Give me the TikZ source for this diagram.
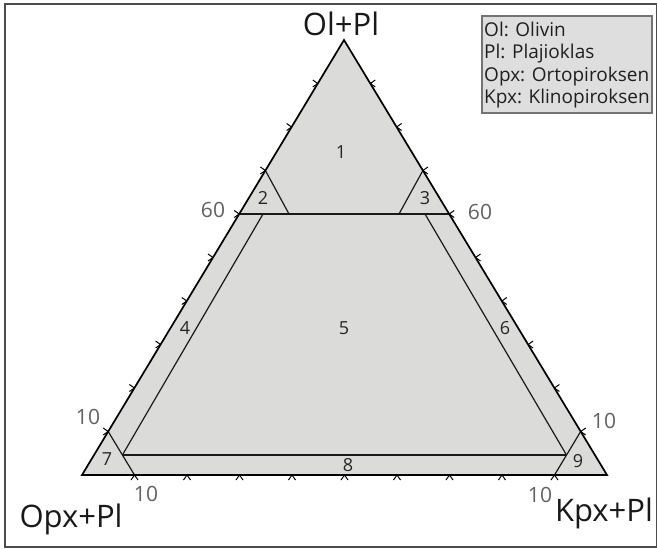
\documentclass[tikz,border=0pt]{standalone}
\usepackage{fontspec}
\setmainfont{Open Sans}
\usetikzlibrary{calc}
\definecolor{fillgray}{RGB}{219,220,217}
\definecolor{leggray}{RGB}{222,222,222}
\begin{document}
\begin{tikzpicture}[x=1pt,y=-1pt,
  side/.style={line width=1.7pt, black, line join=miter},
  innerline/.style={line width=1.2pt, black!90},
  tickmark/.style={line width=1pt, black},
  vlabel/.style={font=\fontsize{31}{36}\selectfont, text=black!90, inner sep=0pt, anchor=base},
  numlabel/.style={font=\fontsize{21}{24}\selectfont, text=black!62, inner sep=0pt},
  reglabel/.style={font=\fontsize{18}{21}\selectfont, text=black!85, inner sep=0pt},
  legtext/.style={font=\fontsize{19}{22}\selectfont, text=black!88, inner sep=0pt, anchor=base west},
]
\useasboundingbox (0,0) rectangle (657,549);
% outer frame
\draw[line width=1.8pt, black!70] (5,4) rectangle (657,547);
% triangle corners
\coordinate (A) at (344,40);
\coordinate (L) at (82,475);
\coordinate (R) at (607,475);
\fill[fillgray] (A) -- (L) -- (R) -- cycle;
% inner points
\coordinate (h60L) at ($(L)!0.6!(A)$);
\coordinate (h60R) at ($(R)!0.6!(A)$);
\coordinate (t2) at ($(L)!0.7!(A)$);
\coordinate (b2) at (289,214);
\coordinate (t3) at ($(R)!0.7!(A)$);
\coordinate (b3) at (399,214);
\coordinate (t4) at (263,214);
\coordinate (t6) at (425,214);
\coordinate (b4) at (122.4,455);
\coordinate (b6) at (566.5,455);
\coordinate (s7) at ($(L)!0.1!(A)$);
\coordinate (e7) at ($(L)!0.1!(R)$);
\coordinate (s9) at ($(R)!0.1!(A)$);
\coordinate (e9) at ($(R)!0.1!(L)$);
% inner lines
\draw[innerline] (h60L) -- (h60R);
\draw[innerline] (t2) -- (b2);
\draw[innerline] (t3) -- (b3);
\draw[innerline] (t4) -- (b4);
\draw[innerline] (t6) -- (b6);
\draw[innerline] (b4) -- (b6);
\draw[innerline] (s7) -- (e7);
\draw[innerline] (s9) -- (e9);
% tick marks
\foreach \k in {1,...,9}{
  \coordinate (tl\k) at ($(L)!\k/10!(A)$);
  \coordinate (tr\k) at ($(R)!\k/10!(A)$);
  \coordinate (tb\k) at ($(L)!\k/10!(R)$);
  \draw[tickmark] (tl\k) -- ++(-5pt,3.5pt) (tl\k) -- ++(-5pt,-3.5pt);
  \draw[tickmark] (tr\k) -- ++(5pt,3.5pt) (tr\k) -- ++(5pt,-3.5pt);
  \draw[tickmark] (tb\k) -- ++(-3.5pt,-5pt) (tb\k) -- ++(3.5pt,-5pt);
}
\draw[side] (A) -- (L) -- (R) -- cycle;
% vertex labels
\node[vlabel] (olpl) at (341,35) {Ol+Pl};
\node[vlabel] (opxpl) at (71,527) {Opx+Pl};
\node[vlabel] (kpxpl) at (604,521) {Kpx+Pl};
% scale numbers
\node[numlabel] (n60l) at (213,210) {60};
\node[numlabel] (n60r) at (480,212) {60};
\node[numlabel] (n10l) at (88,417) {10};
\node[numlabel] (n10bl) at (146,494) {10};
\node[numlabel] (n10r) at (604,421) {10};
\node[numlabel] (n10br) at (540,495) {10};
% region labels
\node[reglabel] (r1) at (341,152) {1};
\node[reglabel] (r2) at (263,198) {2};
\node[reglabel] (r3) at (425,198) {3};
\node[reglabel] (r4) at (185,328) {4};
\node[reglabel] (r5) at (344,328) {5};
\node[reglabel] (r6) at (505,328) {6};
\node[reglabel] (r7) at (107,459) {7};
\node[reglabel] (r8) at (348,465) {8};
\node[reglabel] (r9) at (578,461) {9};
% legend
\draw[line width=1.5pt, black!55, fill=leggray] (482,16) rectangle (652,113);
\node[legtext] (leg1) at (484,36) {Ol: Olivin};
\node[legtext] (leg2) at (484,58.5) {Pl: Plajioklas};
\node[legtext] (leg3) at (484,81) {Opx: Ortopiroksen};
\node[legtext] (leg4) at (484,103) {Kpx: Klinopiroksen};
\end{tikzpicture}
\end{document}
